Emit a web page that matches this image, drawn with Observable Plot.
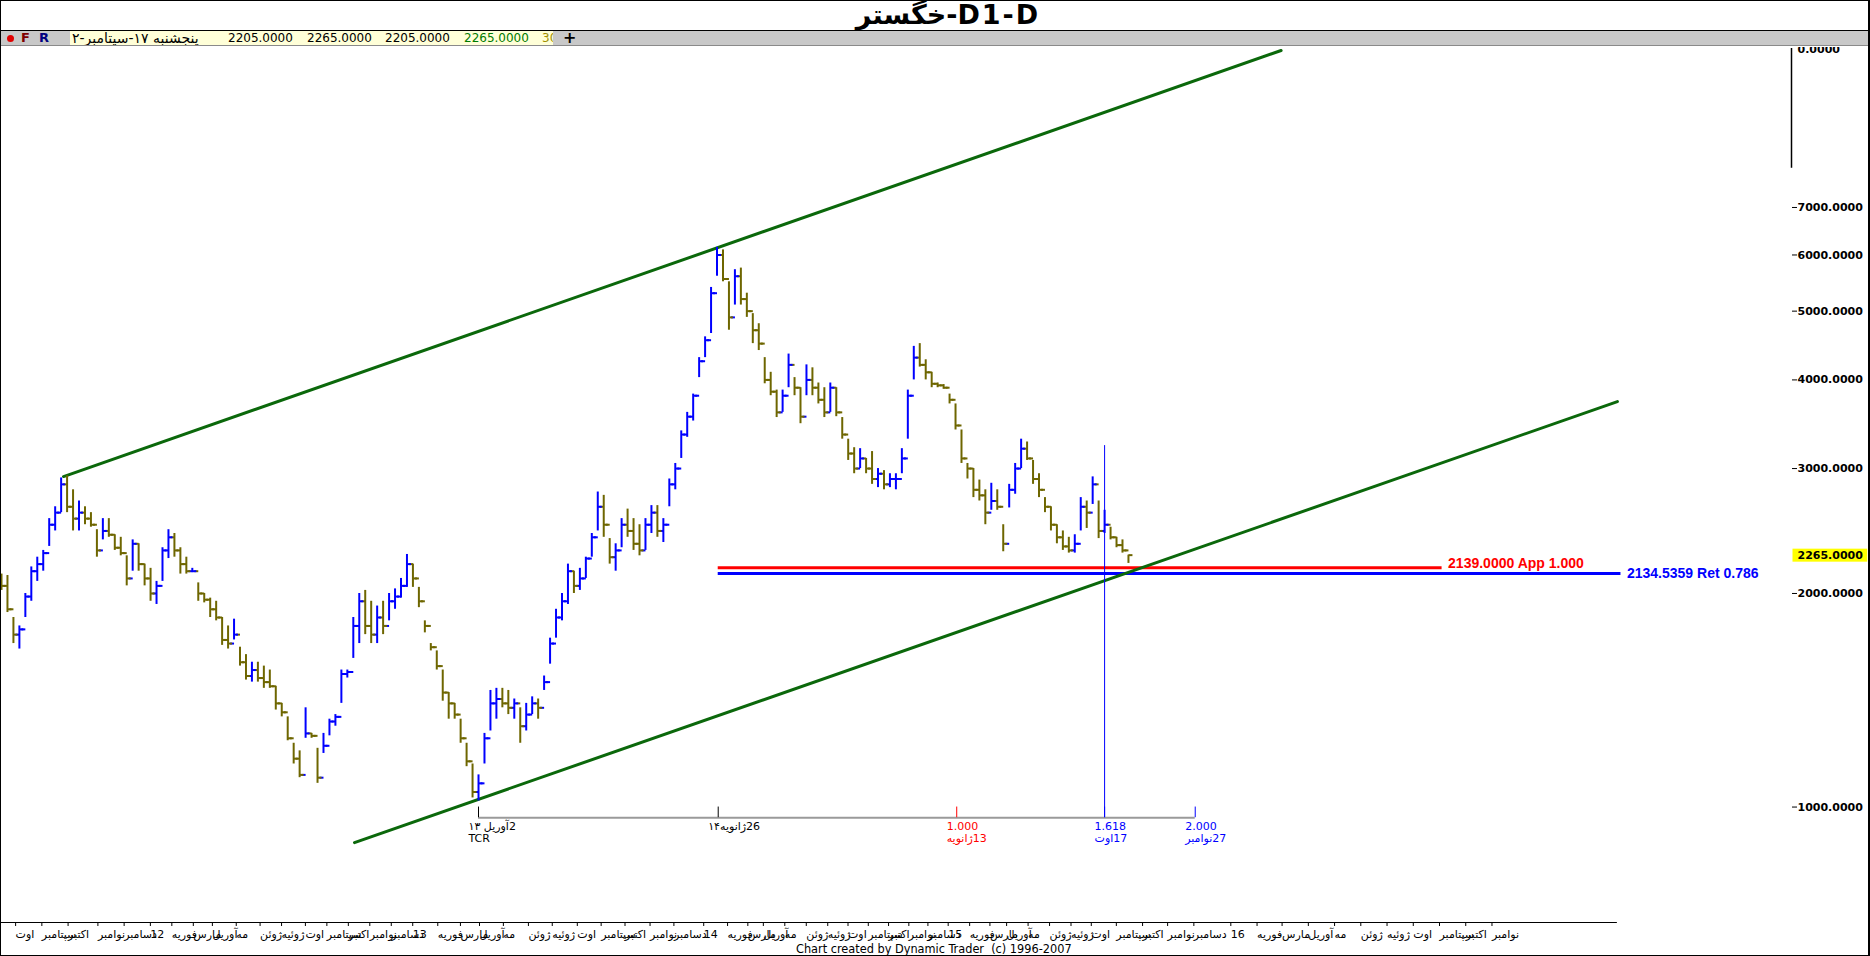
<!DOCTYPE html>
<html><head><meta charset="utf-8">
<script src="https://cdn.jsdelivr.net/npm/d3@7"></script>
<script src="https://cdn.jsdelivr.net/npm/@observablehq/plot@0.6"></script>
<style>
body{margin:0;background:#fff;}
#wrap{position:relative;width:1870px;height:956px;overflow:hidden;background:#fff;}
#titlebar{position:absolute;left:0;top:0;width:1870px;height:30px;border-bottom:1px solid #000;text-align:center;font:bold 27px 'DejaVu Sans',sans-serif;letter-spacing:2px;line-height:30px;color:#000;}
#titlebar span{position:relative;left:13px;}
#toolbar{position:absolute;left:0;top:31px;width:1870px;height:14px;background:#c8c8c8;border-bottom:1px solid #8a8a8a;font:12px 'DejaVu Sans',sans-serif;z-index:5;}
#toolbar span{position:absolute;top:0;line-height:14px;white-space:nowrap;}
#box{position:absolute;left:70px;top:0;width:483px;height:14px;background:#ffffd8;overflow:hidden;}
#dot{position:absolute;left:7px;top:4px;width:7px;height:7px;border-radius:50%;background:#e00000;}
#chart{position:absolute;left:0;top:47px;}
#credit{position:absolute;left:796px;top:942px;font:12.6px 'DejaVu Sans Condensed','DejaVu Sans',sans-serif;line-height:14px;color:#000;white-space:pre;}
#frame{position:absolute;left:0;top:0;width:1870px;height:956px;box-sizing:border-box;border:1px solid #000;border-right-width:2px;pointer-events:none;z-index:9;}
</style></head>
<body>
<div id="wrap">
  <div id="titlebar"><span dir="ltr">خگستر-D1-D</span></div>
  <div id="toolbar">
    <div id="dot"></div>
    <span style="left:21px;color:#800000;font-weight:bold;font-size:13px">F</span>
    <span style="left:39px;color:#000080;font-weight:bold;font-size:13px">R</span>
    <div id="box">
      <span dir="rtl" style="left:2px;font-size:14px;letter-spacing:1.2px">پنجشنبه ۱۷-سپتامبر-۲</span>
      <span style="left:158px">2205.0000</span>
      <span style="left:237px">2265.0000</span>
      <span style="left:315px">2205.0000</span>
      <span style="left:394px;color:#007a00">2265.0000</span>
      <span style="left:472px;color:#a09000">30</span>
    </div>
    <span style="left:563px;font-weight:bold;font-size:16px">+</span>
  </div>
  <div id="chart"></div>
  <div id="credit">Chart created by Dynamic Trader  (c) 1996-2007</div>
  <div id="frame"></div>
</div>
<script>
// ---- weekly OHLC bars (one bar every 5 trading days) ----
const barLow = [
 2020,1880,1700,1670,1850,1950,2080,2150,2330,2450,
 2600,2600,2450,2450,2500,2480,2250,2380,2400,2300,
 2260,2050,2150,2150,2050,1950,1930,2080,2240,2250,
 2130,2130,2140,1950,1940,1850,1830,1690,1670,1720,
 1580,1510,1500,1500,1470,1470,1370,1340,1240,1150,
 1100,1250,1250,1080,1190,1260,1300,1400,1520,1620,
 1700,1750,1700,1700,1750,1830,1900,1970,2040,2040,
 1910,1760,1660,1560,1410,1330,1330,1230,1140,1030,
 1020,1150,1280,1330,1380,1350,1330,1230,1280,1350,
 1330,1460,1590,1730,1830,1930,2000,2020,2100,2250,
 2450,2400,2200,2150,2320,2400,2300,2260,2300,2430,
 2400,2360,2650,2800,3100,3320,3500,4030,4300,4650,
 5600,5500,4700,5100,5100,4900,4500,4400,3950,3800,
 3540,3600,3900,3800,3470,3800,3800,3700,3540,3600,
 3550,3300,3080,2950,3000,2950,2850,2820,2800,2820,
 2800,2950,3300,4000,4170,4000,3900,3900,3880,3700,
 3400,3050,2900,2730,2700,2500,2620,2620,2290,2640,
 2760,3000,3080,2850,2730,2600,2450,2350,2300,2280,
 2280,2450,2470,2670,2390,2430,2380,2320,2280,2205];
const barHigh = [
 2130,2120,1850,1800,2000,2180,2250,2300,2550,2650,
 2910,2930,2800,2700,2650,2600,2460,2550,2550,2420,
 2400,2260,2380,2350,2200,2170,2080,2320,2460,2430,
 2320,2250,2170,2070,2000,1970,1950,1850,1800,1840,
 1680,1640,1600,1600,1580,1560,1480,1400,1340,1230,
 1200,1380,1270,1210,1270,1330,1350,1560,1560,1850,
 2000,2020,1950,1920,1950,2000,2030,2100,2270,2200,
 2040,1830,1700,1660,1560,1450,1400,1330,1230,1150,
 1110,1270,1460,1470,1470,1460,1420,1380,1400,1430,
 1420,1530,1730,1900,2000,2200,2150,2170,2250,2430,
 2780,2750,2390,2350,2550,2630,2550,2500,2550,2660,
 2660,2550,2900,3050,3390,3600,3820,4300,4600,5400,
 6150,6100,5500,5720,5750,5300,4960,4800,4300,4100,
 3870,3870,4350,4030,3900,4200,4160,3960,3900,3960,
 3900,3540,3300,3210,3200,3100,3170,3000,2980,2950,
 2950,3200,3870,4460,4500,4270,4100,3960,3940,3820,
 3700,3400,3050,3000,2890,2800,2860,2800,2500,2850,
 3050,3300,3270,3080,2950,2730,2650,2500,2450,2400,
 2420,2730,2700,2920,2700,2620,2480,2400,2380,2265];
const barClose = [
 2050,1900,1750,1780,1980,2150,2200,2280,2500,2600,
 2850,2650,2550,2600,2550,2500,2300,2450,2420,2320,
 2280,2100,2350,2200,2100,2000,2050,2300,2400,2300,
 2200,2150,2150,2000,1960,1900,1850,1720,1700,1750,
 1600,1530,1560,1520,1500,1480,1400,1360,1250,1170,
 1110,1270,1260,1100,1220,1320,1340,1540,1550,1800,
 1950,1800,1750,1850,1800,1950,1980,2050,2200,2100,
 1950,1800,1680,1580,1450,1400,1350,1250,1160,1050,
 1080,1250,1400,1420,1400,1380,1400,1300,1350,1400,
 1380,1500,1700,1850,1950,2150,2050,2100,2240,2400,
 2650,2500,2250,2300,2500,2450,2350,2300,2500,2600,
 2450,2500,2850,3000,3350,3550,3800,4250,4550,5300,
 6000,5550,4900,5600,5200,5000,4700,4500,4000,3850,
 3600,3800,4200,3900,3550,4000,3900,3750,3600,3900,
 3600,3350,3150,3000,3100,3000,2900,2950,2850,2900,
 2900,3100,3800,4300,4200,4100,3950,3930,3900,3750,
 3450,3100,3000,2800,2750,2600,2700,2650,2350,2800,
 3000,3200,3100,2900,2800,2650,2500,2400,2330,2300,
 2350,2650,2600,2850,2450,2500,2400,2340,2300,2265];
const firstOpen = 2120;
const daysPerBar = 5;

// ---- channel lines (trading-day index, price) ----
const upperDays = [52, 1073], upperPrices = [2923, 11650];
const lowerDays = [296, 1355], lowerPrices = [891, 3728];

// ---- projection levels ----
const levelValues = [2139, 2134.5359];
const levelStart = [601, 601];
const levelEnd = [1208, 1358];
const levelTexts = ["2139.0000 App 1.000", "2134.5359 Ret 0.786"];
const levelColors = ["#ff0000", "#0000ff"];

// ---- time cycle ruler ----
const rulerPrice = 966, rulerTickTop = 1000;
const rulerDays = [400, 601, 801, 925, 1001];
const rulerColors = ["#000000", "#000000", "#ff0000", "#0000ff", "#0000ff"];
const rulerTop = ["2آوریل ۱۳", "26ژانویه۱۴", "1.000", "1.618", "2.000"];
const rulerBottom = ["TCR", "", "13ژانویه", "17اوت", "27نوامبر"];
const cycleLineDay = 925, cycleLineTop = 3232;

// ---- axes ----
const priceTicks = [1000, 2000, 3000, 4000, 5000, 6000, 7000];
const lastPrice = 2265;
const paneEdge = [7950, 11727];
const xAxisSpan = [0, 1355];
const monthDays = [11,33,55,80,102,124,142,160,176,196,216,234,254,272,290,308,326,344,
 365,384,400,420,441,461,482,502,522,543,563,588,608,625,638,656,674,692,709,726,743,760,776,793,
 811,828,842,860,878,896,913,934,956,977,999,1030,1052,1073,1095,1117,1139,1161,1183,1205,1227,1249];
const monthLabels = ["اوت","سپتامبر","اکتبر","نوامبر","دسامبر","12",
 "فوریه","مارس","آوریل","مه","ژوئن","ژوئیه","اوت","سپتامبر","اکتبر","نوامبر","دسامبر","13",
 "فوریه","مارس","آوریل","مه","ژوئن","ژوئیه","اوت","سپتامبر","اکتبر","نوامبر","دسامبر","14",
 "فوریه","مارس","آوریل","مه","ژوئن","ژوئیه","اوت","سپتامبر","اکتبر","نوامبر","دسامبر","15",
 "فوریه","مارس","آوریل","مه","ژوئن","ژوئیه","اوت","سپتامبر","اکتبر","نوامبر","دسامبر","16",
 "فوریه","مارس","آوریل","مه","ژوئن","ژوئیه","اوت","سپتامبر","اکتبر","نوامبر"];

// ---- build tables ----
const UP = "#0000ff", DOWN = "#6e6600";
const bars = barLow.map((lo, i) => {
  const open = i ? barClose[i - 1] : firstOpen;
  const close = barClose[i];
  return {d: i * daysPerBar, lo, hi: barHigh[i], open, close, color: close >= open ? UP : DOWN};
});
const upper = upperDays.map((d, i) => ({d, p: upperPrices[i]}));
const lower = lowerDays.map((d, i) => ({d, p: lowerPrices[i]}));
const levels = levelValues.map((v, i) => ({v, x1: levelStart[i], x2: levelEnd[i], t: levelTexts[i], c: levelColors[i]}));
const rtl = s => /[\u0600-\u06FF]/.test(s) ? "\u202B" + s + "\u202C" : s;
const ruler = rulerDays.map((d, i) => ({d, c: rulerColors[i], t1: rtl(rulerTop[i]), t2: rtl(rulerBottom[i])}));
const monthMap = new Map(monthDays.map((d, i) => [d, monthLabels[i]]));

const leftTick = {draw(ctx) { ctx.moveTo(-4, 0); ctx.lineTo(0, 0); }};
const rightTick = {draw(ctx) { ctx.moveTo(0, 0); ctx.lineTo(4, 0); }};
const yDomain = [687.5, 11727];
const fmt = d3.format(".4f");

const chart = Plot.plot({
  width: 1870, height: 895,
  marginLeft: 1, marginRight: 79, marginTop: 1, marginBottom: 20,
  x: {domain: [0, 1501]},
  y: {type: "log", domain: yDomain},
  color: {type: "identity"},
  style: {fontFamily: "'DejaVu Sans', sans-serif", fontSize: "11px", background: "transparent"},
  marks: [
    // x axis line + month ticks
    Plot.ruleY([yDomain[0]], {x1: xAxisSpan[0], x2: xAxisSpan[1], stroke: "#000", strokeWidth: 1}),
    Plot.axisX({ticks: monthDays, tickFormat: d => monthMap.get(d), tickSize: 4, tickPadding: 4,
      textAnchor: "start", dx: 1, fontSize: 11, label: null, fill: "#000", stroke: "#000"}),
    // price axis
    Plot.axisY({anchor: "right", ticks: priceTicks, tickFormat: fmt, tickSize: 5, tickPadding: 1,
      fontWeight: "bold", fontSize: 11, label: null}),
    Plot.ruleX([paneEdge], {x: () => 1501, y1: d => d[0], y2: d => d[1], stroke: "#000", strokeWidth: 1.5}),
    Plot.text(["0.0000"], {frameAnchor: "top-right", text: d => d, textAnchor: "start", dx: 6, dy: -3,
      fontWeight: "bold", fontSize: 11}),
    Plot.text([lastPrice], {y: d => d, text: d => fmt(d), frameAnchor: "right", textAnchor: "start", dx: 6,
      fontWeight: "bold", fontSize: 11, fill: "#000"}),
    // projection levels
    Plot.ruleY(levels, {y: "v", x1: "x1", x2: "x2", stroke: "c", strokeWidth: 3}),
    Plot.text(levels, {x: "x2", y: "v", text: "t", fill: "c", textAnchor: "start", dx: 6,
      fontWeight: "bold", fontSize: 14, fontFamily: "'Liberation Sans', sans-serif"}),
    // time ruler
    Plot.ruleY([rulerPrice], {x1: rulerDays[0], x2: rulerDays[rulerDays.length - 1], stroke: "#9a9a9a", strokeWidth: 2}),
    Plot.ruleX(ruler, {x: "d", y1: () => rulerPrice, y2: () => rulerTickTop, stroke: "c", strokeWidth: 1}),
    Plot.text(ruler, {x: "d", y: () => rulerPrice, text: "t1", fill: "c", textAnchor: "start", dx: -10, dy: 9, fontSize: 11}),
    Plot.text(ruler, {x: "d", y: () => rulerPrice, text: "t2", fill: "c", textAnchor: "start", dx: -10, dy: 21, fontSize: 11}),
    // channel
    Plot.line(upper, {x: "d", y: "p", stroke: "#0b680b", strokeWidth: 3}),
    Plot.line(lower, {x: "d", y: "p", stroke: "#0b680b", strokeWidth: 3}),
    // OHLC bars
    Plot.ruleX(bars, {x: "d", y1: "lo", y2: "hi", stroke: "color", strokeWidth: 2}),
    Plot.dot(bars, {x: "d", y: "open", symbol: leftTick, r: 3, fill: "none", stroke: "color", strokeWidth: 2}),
    Plot.dot(bars, {x: "d", y: "close", symbol: rightTick, r: 3, fill: "none", stroke: "color", strokeWidth: 2}),
    // cycle projection vertical
    Plot.ruleX([cycleLineDay], {y1: () => rulerPrice, y2: () => cycleLineTop, stroke: "#0000ff", strokeWidth: 1})
  ]
});
document.getElementById("chart").appendChild(chart);

// the original draws the red level a few pixels above the blue one
const svg = d3.select(chart);
svg.selectAll("g").filter(function() { return this.getAttribute("stroke-width") === "3"; }).selectAll("line")
  .filter(function() { return this.getAttribute("stroke") === "#ff0000"; }).attr("transform", "translate(0,-5)");
svg.selectAll("text").filter(function() { return this.textContent === levelTexts[0]; })
  .each(function() { const t = this.getAttribute("transform") || ""; this.setAttribute("transform", t + " translate(0,-9)"); });
// yellow background for the last price label
svg.selectAll("text").filter(function() { return this.textContent === fmt(lastPrice); }).each(function() {
  const b = this.getBBox();
  d3.select(this.parentNode).insert("rect", () => this)
    .attr("transform", this.getAttribute("transform"))
    .attr("x", b.x - 5).attr("y", b.y).attr("width", b.width + 9).attr("height", b.height)
    .attr("fill", "#ffff00");
});
</script>
</body></html>
